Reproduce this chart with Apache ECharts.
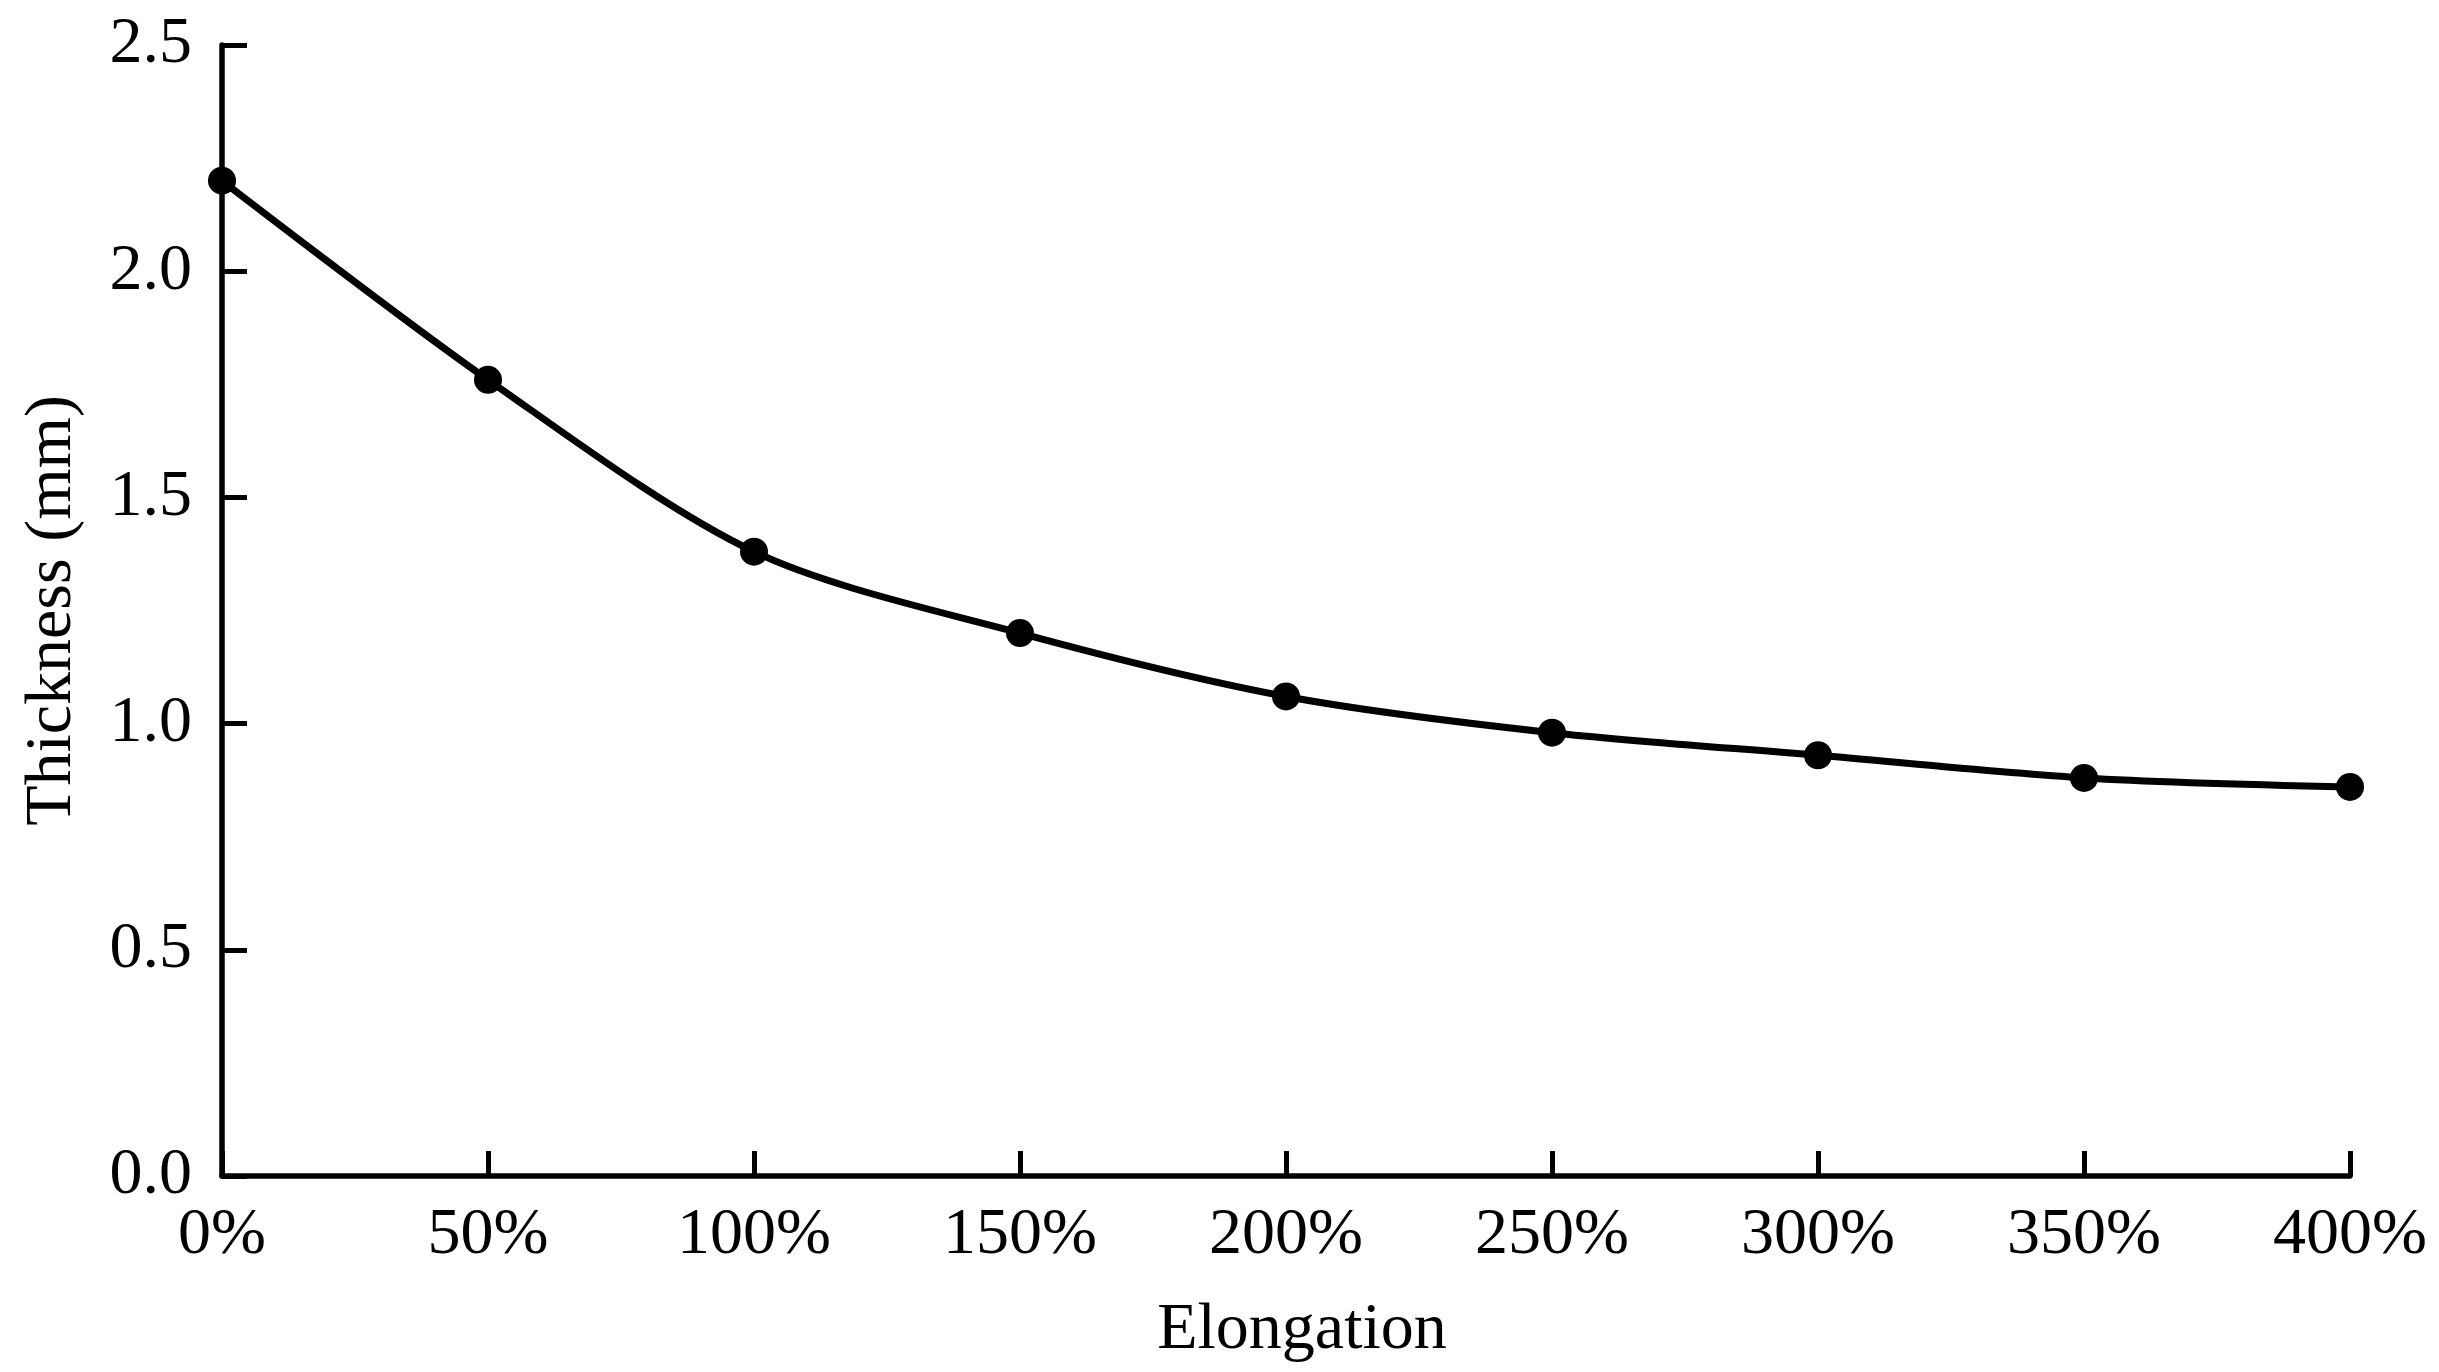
<!DOCTYPE html>
<html>
<head>
<meta charset="utf-8">
<script src="https://cdn.jsdelivr.net/npm/echarts@6/dist/echarts.min.js"></script>
<style>html,body{margin:0;padding:0;background:#fff}#c{width:2439px;height:1372px}</style>
</head>
<body>
<div id="c"></div>
<script>
const elongation = [0, 50, 100, 150, 200, 250, 300, 350, 400];
const thickness = [2.20, 1.76, 1.38, 1.20, 1.06, 0.98, 0.93, 0.88, 0.86];
const xTicks = [0, 50, 100, 150, 200, 250, 300, 350, 400];
const yTicks = [0.0, 0.5, 1.0, 1.5, 2.0, 2.5];

const font = '"Liberation Serif", "Times New Roman", serif';
const chart = echarts.init(document.getElementById('c'));
chart.setOption({
  backgroundColor: '#fff',
  animation: false,
  grid: { left: 222, right: 89, top: 45, bottom: 196, containLabel: false },
  xAxis: {
    type: 'value', min: xTicks[0], max: xTicks[xTicks.length - 1], interval: 50,
    name: 'Elongation', nameLocation: 'middle', nameGap: 122,
    nameTextStyle: { fontFamily: font, fontSize: 66, color: '#000', padding: [0, 0, 0, 32] },
    axisLine: { lineStyle: { color: '#000', width: 5.5 } },
    axisTick: { inside: true, length: 25, lineStyle: { color: '#000', width: 5 } },
    axisLabel: { fontFamily: font, fontSize: 66, color: '#000', margin: 27,
      formatter: v => v + '%' },
    splitLine: { show: false }
  },
  yAxis: {
    type: 'value', min: yTicks[0], max: yTicks[yTicks.length - 1], interval: 0.5,
    name: 'Thickness (mm)', nameLocation: 'middle', nameGap: 136,
    nameTextStyle: { fontFamily: font, fontSize: 66, color: '#000' },
    axisLine: { show: true, lineStyle: { color: '#000', width: 5.5 } },
    axisTick: { show: true, inside: true, length: 25, lineStyle: { color: '#000', width: 5 } },
    axisLabel: { fontFamily: font, fontSize: 66, color: '#000', margin: 30,
      formatter: v => v.toFixed(1) },
    splitLine: { show: false }
  },
  series: [{
    type: 'line',
    data: elongation.map((x, i) => [x, thickness[i]]),
    smooth: 0.3,
    symbol: 'circle', symbolSize: 28,
    lineStyle: { color: '#000', width: 7 },
    itemStyle: { color: '#000' }
  }]
});
</script>
</body>
</html>
